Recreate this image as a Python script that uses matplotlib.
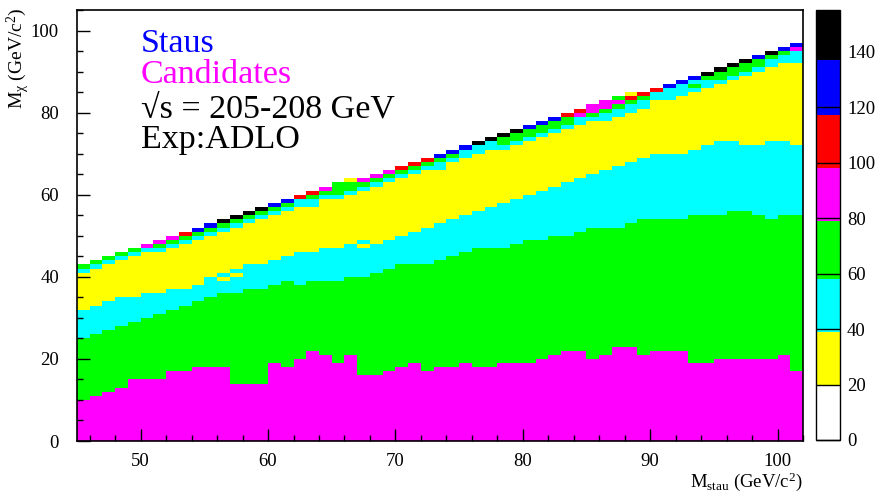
import numpy as np
import matplotlib
matplotlib.use("Agg")
import matplotlib.pyplot as plt
from matplotlib.colors import ListedColormap, BoundaryNorm
from matplotlib.ticker import MultipleLocator

# 1 GeV bins in stau mass (x) and neutralino mass (y)
m_stau_edges = np.arange(45, 103)
m_chi_edges = np.arange(0, 106)

# per stau-mass column: upper edge of the magenta, green and lower cyan bands
magenta_top = [10, 11, 12, 13, 15, 15, 15, 17, 17, 18,
               18, 18, 14, 14, 14, 19, 18, 20, 22, 21,
               19, 21, 16, 16, 17, 18, 19, 17, 18, 18,
               19, 18, 18, 19, 19, 19, 20, 21, 22, 22,
               20, 21, 23, 23, 21, 22, 22, 22, 19, 19,
               20, 20, 20, 20, 20, 21, 17]
green_top = [25, 26, 27, 28, 29, 30, 31, 32, 33, 34,
             35, 36, 36, 37, 37, 38, 39, 38, 39, 39,
             39, 40, 40, 41, 42, 43, 43, 43, 44, 45,
             46, 47, 47, 47, 48, 49, 49, 50, 50, 51,
             52, 52, 52, 53, 54, 54, 54, 54, 55, 55,
             55, 56, 56, 55, 54, 55, 55]
cyan_top = [32, 33, 34, 35, 35, 36, 36, 37, 37, 38,
            40, 41, 42, 43, 43, 44, 45, 46, 46, 47,
            47, 48, 49, 48, 49, 50, 51, 52, 53, 54,
            55, 56, 57, 58, 59, 60, 61, 62, 63, 64,
            65, 66, 67, 68, 69, 70, 70, 70, 71, 72,
            73, 73, 72, 72, 73, 73, 72]

# last filled row of each column (exclusive) and the cells below it, top first
edge_top = [43, 44, 45, 46, 47, 48, 49, 50, 51, 52,
            53, 54, 55, 56, 57, 58, 59, 60, 61, 62,
            63, 64, 64, 65, 66, 67, 68, 69, 70, 71,
            72, 73, 74, 75, 76, 77, 78, 79, 80, 81,
            82, 83, 84, 85, 85, 86, 87, 88, 89, 90,
            91, 92, 93, 94, 95, 96, 97]
edge_cells = ["GC", "GC", "GC", "GC", "GC", "MC", "MGC", "MGC", "RGC", "BGC",
              "BGC", "KGC", "KGC", "KGC", "KGC", "BGC", "BGC", "RCC", "RGCC", "MGC",
              "GGGC", "YGGC", "MGC", "MGC", "MGC", "RGC", "RGC", "RGC", "BGCC", "BGC",
              "BCC", "KCC", "KCC", "KGGC", "KGGC", "BGGC", "BGGC", "BGGC", "RGGC", "RMCC",
              "MMGC", "MMGCC", "GMGCC", "YRGCC", "RGCC", "RCC", "BCCC", "BCCC", "BCGC", "KGCC",
              "KGGC", "KGGC", "KGGC", "BGGC", "KGCC", "BGCC", "BMCCC"]

# single yellow cells left inside the lower cyan band: (column, row)
yellow_cells = [(11, 39), (12, 40), (22, 47)]

# candidate count of each colour level
level_counts = {"Y": 30, "C": 48, "G": 68, "M": 88, "R": 108, "B": 127, "K": 146}

palette = ["white", "#ffff00", "#00ffff", "#00ff00", "#ff00ff",
           "#ff0000", "#0000ff", "black"]
levels = [0, 20, 39, 58, 79, 98, 117, 137, 155]

counts = np.zeros((len(m_chi_edges) - 1, len(m_stau_edges) - 1))
for k in range(len(m_stau_edges) - 1):
    counts[:magenta_top[k], k] = level_counts["M"]
    counts[magenta_top[k]:green_top[k], k] = level_counts["G"]
    counts[green_top[k]:cyan_top[k], k] = level_counts["C"]
    yellow_end = edge_top[k] - len(edge_cells[k])
    counts[cyan_top[k]:yellow_end, k] = level_counts["Y"]
    for i, code in enumerate(edge_cells[k]):
        counts[edge_top[k] - 1 - i, k] = level_counts[code]
for k, row in yellow_cells:
    counts[row, k] = level_counts["Y"]

plt.rcParams["font.family"] = ["Liberation Serif", "DejaVu Serif"]
plt.rcParams["mathtext.fontset"] = "custom"
plt.rcParams["mathtext.rm"] = "Liberation Serif"
plt.rcParams["mathtext.it"] = "Liberation Serif:italic"

cmap = ListedColormap(palette)
norm = BoundaryNorm(levels, cmap.N)

W, H = 880, 495
fig = plt.figure(figsize=(W / 100, H / 100), dpi=100)
ax = fig.add_axes([77 / W, 1 - 441 / H, 726 / W, 431 / H])
mesh = ax.pcolormesh(m_stau_edges, m_chi_edges, counts, cmap=cmap, norm=norm)
ax.set_xlim(45, 102)
ax.set_ylim(0, 105)

ax.set_xticks(range(50, 101, 10))
ax.set_yticks(range(0, 101, 20))
ax.xaxis.set_minor_locator(MultipleLocator(2))
ax.yaxis.set_minor_locator(MultipleLocator(5))
ax.tick_params(which="both", direction="in", top=False, right=False,
               labelsize=13.5, width=1)
ax.tick_params(which="major", length=9)
ax.tick_params(which="minor", length=4.5)
ax.tick_params(axis="x", pad=9)
ax.tick_params(axis="y", pad=13)
for s in ax.spines.values():
    s.set_linewidth(1.2)

cax = fig.add_axes([816 / W, 1 - 440 / H, 24 / W, 430 / H])
cb = fig.colorbar(mesh, cax=cax, spacing="proportional",
                  ticks=range(0, 141, 20))
cb.outline.set_linewidth(1)
cax.minorticks_off()
cax.tick_params(direction="in", length=17, width=1, labelsize=13.5, pad=5)

fig.text(18 / W, 1 - 8 / H, r"M$_{\mathrm{χ}}$ (GeV/c$^{2}$)", rotation=90,
         ha="center", va="top", size=14)
fig.text(803 / W, 1 - 493 / H, r"M$_{\mathrm{stau}}$ (GeV/c$^{2}$)",
         ha="right", va="bottom", size=13.5)

fig.text(141 / W, 1 - 52 / H, "Staus", color="#0000ff", size=24.5)
fig.text(141 / W, 1 - 83 / H, "Candidates", color="#ff00ff", size=24.5)
fig.text(141 / W, 1 - 117 / H, "√s = 205-208 GeV", color="black", size=24.5)
fig.text(141 / W, 1 - 148 / H, "Exp:ADLO", color="black", size=24.5)

fig.savefig("out.png", dpi=100)
